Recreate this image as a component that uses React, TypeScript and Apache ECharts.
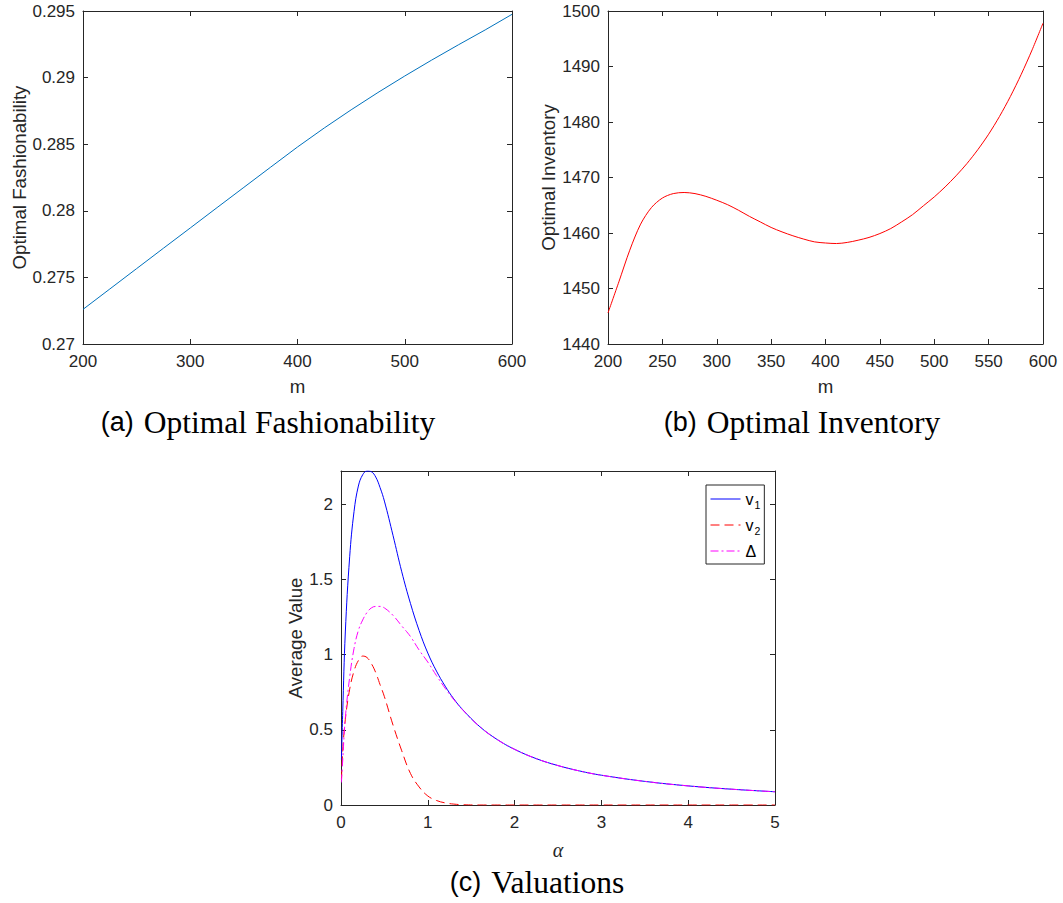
import React, { useEffect, useRef } from "react";
import * as echarts from "echarts";

// ---------- Data ----------
// (a) Optimal Fashionability vs m
const mA = [200, 225, 250, 275, 300, 325, 350, 375, 400, 425, 450, 475, 500, 525, 550, 575, 600];
const fashion = [0.2726, 0.27413, 0.27566, 0.27719, 0.27871, 0.28024, 0.28176, 0.28328, 0.28479, 0.28622, 0.28758, 0.28888, 0.29012, 0.29131, 0.29246, 0.29358, 0.29475];

// (b) Optimal Inventory vs m
const mB = [200, 210, 220, 230, 240, 250, 260, 270, 280, 290, 300, 310, 320, 330, 340, 350, 360, 370, 380, 390, 400,
  410, 420, 430, 440, 450, 460, 470, 480, 490, 500, 510, 520, 530, 540, 550, 560, 570, 580, 590, 600];
const inventory = [1445.6, 1451.2, 1456.9, 1461.6, 1464.6, 1466.3, 1467.1, 1467.3, 1467.1, 1466.6, 1465.9,
  1465.1, 1464.1, 1463.0, 1462.0, 1461.0, 1460.2, 1459.5, 1458.9, 1458.4, 1458.2,
  1458.1, 1458.3, 1458.7, 1459.2, 1459.9, 1460.8, 1462.0, 1463.3, 1464.9, 1466.5,
  1468.3, 1470.3, 1472.5, 1475.0, 1477.8, 1481.0, 1484.6, 1488.6, 1493.0, 1497.8];

// (c) Valuations vs alpha
const alpha = [0.005, 0.02, 0.05, 0.1, 0.15, 0.2, 0.25, 0.3, 0.35, 0.4, 0.45, 0.5, 0.6, 0.7, 0.8, 0.9, 1.0, 1.1, 1.2, 1.3, 1.4,
  1.6, 1.8, 2.0, 2.25, 2.5, 2.75, 3.0, 3.5, 4.0, 4.5, 5.0];
const v1 = [0.30, 0.62, 1.15, 1.65, 1.95, 2.12, 2.195, 2.22, 2.215, 2.18, 2.11, 2.02, 1.79, 1.55, 1.34, 1.16, 1.01, 0.89, 0.79, 0.705, 0.635,
  0.52, 0.435, 0.37, 0.308, 0.262, 0.226, 0.198, 0.157, 0.127, 0.105, 0.088];
const v2 = [0.17, 0.36, 0.57, 0.77, 0.89, 0.96, 0.99, 0.98, 0.94, 0.88, 0.80, 0.72, 0.53, 0.36, 0.21, 0.12, 0.06, 0.03, 0.014, 0.006, 0.002,
  0, 0, 0, 0, 0, 0, 0, 0, 0, 0, 0];
const delta = [0.15, 0.30, 0.58, 0.85, 1.04, 1.16, 1.23, 1.28, 1.31, 1.32, 1.32, 1.31, 1.26, 1.19, 1.12, 1.03, 0.95, 0.86, 0.776, 0.70, 0.633,
  0.52, 0.435, 0.37, 0.308, 0.262, 0.226, 0.198, 0.157, 0.127, 0.105, 0.088];

const legendNames = ["v1", "v2", "Δ"];

// ---------- Styling ----------
const AX = "#262626";
const SANS = "Liberation Sans";
const SERIF = "Liberation Serif";

const pair = (xs: number[], ys: number[]) => xs.map((x, i) => [x, ys[i]]);

function xAxes(grid: number, min: number, max: number, interval: number, name: string, nameGap: number, nameStyle: any) {
  const common = {
    type: "value", gridIndex: grid, min, max, interval,
    axisLine: { show: true, onZero: false, lineStyle: { color: AX, width: 1 } },
    axisTick: { show: true, inside: true, length: 5, lineStyle: { color: AX, width: 1 } },
    splitLine: { show: false },
  };
  return [
    {
      ...common, position: "bottom", name, nameLocation: "middle", nameGap, nameTextStyle: nameStyle,
      axisLabel: { color: AX, fontSize: 17, fontFamily: SANS, margin: 9, formatter: (v: number) => String(v) },
    },
    { ...common, position: "top", axisLabel: { show: false } },
  ];
}

function yAxes(grid: number, min: number, max: number, interval: number, name: string, nameGap: number, fmt: (v: number) => string) {
  const common = {
    type: "value", gridIndex: grid, min, max, interval,
    axisLine: { show: true, onZero: false, lineStyle: { color: AX, width: 1 } },
    axisTick: { show: true, inside: true, length: 5, lineStyle: { color: AX, width: 1 } },
    splitLine: { show: false },
  };
  return [
    {
      ...common, position: "left", name, nameLocation: "middle", nameGap,
      nameTextStyle: { color: AX, fontSize: 18.7, fontFamily: SANS },
      axisLabel: { color: AX, fontSize: 17, fontFamily: SANS, margin: 8, formatter: fmt },
    },
    { ...common, position: "right", axisLabel: { show: false } },
  ];
}

const plain = (v: number) => String(+v.toFixed(6));

export default function App() {
  const ref = useRef<HTMLDivElement>(null);

  useEffect(() => {
    if (!ref.current) return;
    const chart = echarts.init(ref.current, undefined, { renderer: "svg" });

    const nameSans = { color: AX, fontSize: 18.7, fontFamily: SANS };
    const nameAlpha = { color: AX, fontSize: 20, fontFamily: SERIF, fontStyle: "italic" };

    const titleRich = {
      s: { fontFamily: SANS, fontSize: 27, fill: "#000" },
      g: { fontFamily: SANS, fontSize: 27, fill: "#000", width: 10 },
      r: { fontFamily: SERIF, fontSize: 31.5, fill: "#000" },
    };

    const option: any = {
      animation: false,
      backgroundColor: "#ffffff",
      grid: [
        { left: 83, top: 11, width: 429, height: 333 },
        { left: 608, top: 11, width: 435, height: 333 },
        { left: 341, top: 471, width: 434, height: 334 },
      ],
      xAxis: [
        ...xAxes(0, 200, 600, 100, "m", 33, nameSans),
        ...xAxes(1, 200, 600, 50, "m", 33, nameSans),
        ...xAxes(2, 0, 5, 1, "α", 35, nameAlpha),
      ],
      yAxis: [
        ...yAxes(0, 0.27, 0.295, 0.005, "Optimal Fashionability", 54, plain),
        ...yAxes(1, 1440, 1500, 10, "Optimal Inventory", 49, plain),
        ...yAxes(2, 0, 2.22, 0.5, "Average Value", 36, (v: number) =>
          Math.abs(v * 2 - Math.round(v * 2)) < 1e-9 ? plain(v) : ""),
      ],
      legend: {
        data: legendNames,
        orient: "vertical",
        left: 706,
        top: 485,
        padding: [6, 4, 5, 4],
        itemWidth: 30,
        itemHeight: 12,
        itemGap: 7,
        borderColor: AX,
        borderWidth: 1,
        backgroundColor: "#ffffff",
        selectedMode: false,
        itemStyle: { opacity: 0 },
        lineStyle: { width: 1 },
        formatter: (n: string) => (n === "v1" ? "{a|v}{s|1}" : n === "v2" ? "{a|v}{s|2}" : "{a|Δ}"),
        textStyle: {
          color: "#000",
          fontSize: 15,
          fontFamily: SANS,
          rich: {
            a: { fontSize: 16, fontFamily: SANS, color: "#000" },
            s: { fontSize: 10.5, fontFamily: SANS, color: "#000", padding: [11, 0, 0, 1] },
          },
        },
      },
      series: [
        {
          type: "line", xAxisIndex: 0, yAxisIndex: 0, data: pair(mA, fashion), showSymbol: false, symbol: "none",
          smooth: false, lineStyle: { color: "#0072BD", width: 1 }, itemStyle: { color: "#0072BD" },
        },
        {
          type: "line", xAxisIndex: 2, yAxisIndex: 2, data: pair(mB, inventory), showSymbol: false, symbol: "none",
          smooth: 0.3, lineStyle: { color: "#FF0000", width: 1 }, itemStyle: { color: "#FF0000" },
        },
        {
          name: "v1", type: "line", xAxisIndex: 4, yAxisIndex: 4, data: pair(alpha, v1), showSymbol: false, symbol: "none",
          smooth: 0.4, lineStyle: { color: "#0000FF", width: 1 }, itemStyle: { color: "#0000FF" },
        },
        {
          name: "v2", type: "line", xAxisIndex: 4, yAxisIndex: 4, data: pair(alpha, v2), showSymbol: false, symbol: "none",
          smooth: 0.4, lineStyle: { color: "#FF0000", width: 1, type: [9, 5] }, itemStyle: { color: "#FF0000" },
        },
        {
          name: "Δ", type: "line", xAxisIndex: 4, yAxisIndex: 4, data: pair(alpha, delta), showSymbol: false, symbol: "none",
          smooth: 0.4, lineStyle: { color: "#FF00FF", width: 1, type: [8, 3, 2, 3] }, itemStyle: { color: "#FF00FF" },
        },
      ],
      graphic: [
        {
          type: "text",
          style: {
            text: "{s|(a)}{g| }{r|Optimal Fashionability}", x: 268, y: 422, textAlign: "center", textVerticalAlign: "middle",
            rich: titleRich,
          },
        },
        {
          type: "text",
          style: {
            text: "{s|(b)}{g| }{r|Optimal Inventory}", x: 802, y: 422, textAlign: "center", textVerticalAlign: "middle",
            rich: titleRich,
          },
        },
        {
          type: "text",
          style: {
            text: "{s|(c)}{g| }{r|Valuations}", x: 537, y: 882, textAlign: "center", textVerticalAlign: "middle",
            rich: titleRich,
          },
        },
      ],
    };

    chart.setOption(option);
    return () => chart.dispose();
  }, []);

  return (
    <div
      ref={ref}
      style={{ position: "fixed", left: 0, top: 0, width: 1063, height: 903, background: "#fff" }}
    />
  );
}
